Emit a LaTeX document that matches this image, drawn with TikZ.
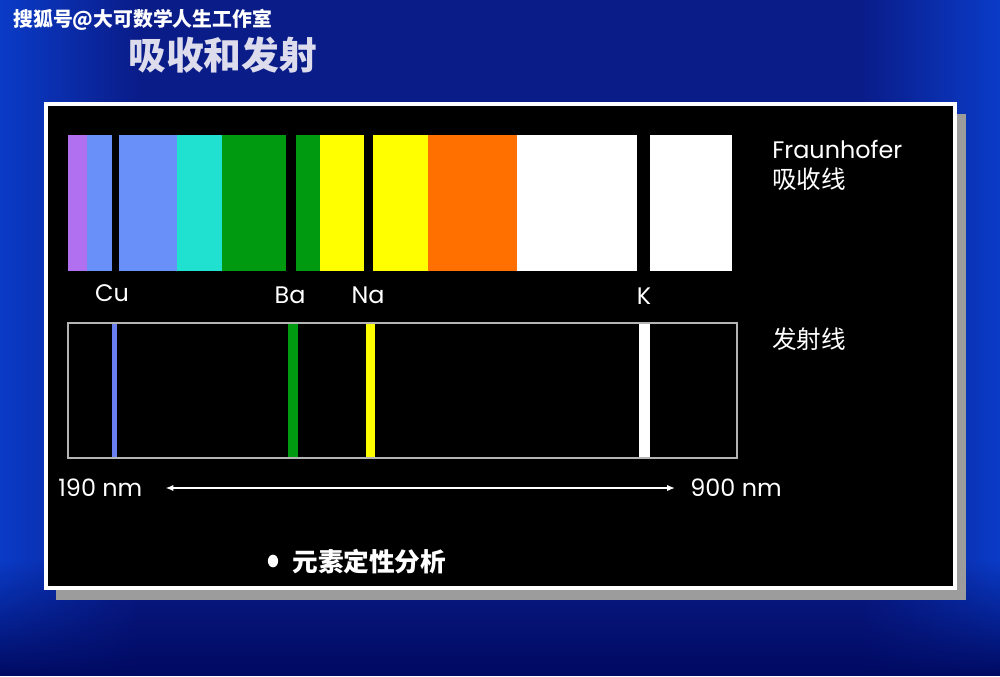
\documentclass[tikz,border=0pt]{standalone}
\usepackage{fontspec}
\setmainfont{Poppins}
\newfontfamily\cjk{Noto Sans CJK SC}
\usetikzlibrary{arrows.meta,shapes.geometric,fadings}

\definecolor{bgnavy}{HTML}{0A1C88}
\definecolor{bgedge}{HTML}{0A3CC8}
\definecolor{bgdeep}{HTML}{010A62}
\definecolor{shadowgray}{HTML}{9C9C9C}
\definecolor{framegray}{HTML}{B4B4B4}
\definecolor{violetband}{HTML}{B070F0}
\definecolor{blueband}{HTML}{6890F8}
\definecolor{cyanband}{HTML}{20E0D0}
\definecolor{greenband}{HTML}{009A10}
\definecolor{yellowband}{HTML}{FFFF00}
\definecolor{orangeband}{HTML}{FF7000}
\definecolor{cublue}{HTML}{6A80F0}
\definecolor{titlegray}{HTML}{DCDCEC}

\begin{document}
\begin{tikzpicture}[
    x=0.02cm, y=-0.02cm,
    every node/.style={text=white, inner sep=0pt},
    lbl/.style={font=\fontsize{13.6pt}{16pt}\selectfont},
    cjklbl/.style={font=\cjk\fontsize{14pt}{17pt}\selectfont},
    panel/.style={draw=white, line width=2.3pt, fill=black},
    embox/.style={draw=framegray, line width=1.1pt},
    wlarrow/.style={{Latex[length=4.5pt,width=3.6pt]}-{Latex[length=4.5pt,width=3.6pt]},
      white, line width=1.1pt}
  ]
    \useasboundingbox (0,0) rectangle (1000,676);

    % Background
    \fill[bgnavy] (0,0) rectangle (1000,676);
    \fill[bgedge, path fading=east] (0,0) rectangle (140,676);
    \fill[bgedge, path fading=west] (860,0) rectangle (1000,676);
    \fill[bgdeep, path fading=north] (0,560) rectangle (1000,676);

    % Headings
    \node[anchor=west, font=\cjk\bfseries\fontsize{11.3pt}{13pt}\selectfont] (mark) at (13,20) {搜狐号@大可数学人生工作室};
    \node[anchor=west, text=titlegray, font=\cjk\bfseries\fontsize{21.5pt}{24pt}\selectfont] (title) at (128,55) {吸收和发射};

    % Panel with shadow
    \fill[shadowgray] (56,114) rectangle (966,600);
    \draw[panel] (46,104) rectangle (955,588);

    % Absorption spectrum
    \foreach \xa/\xb/\col in {68/87/violetband, 87/177/blueband, 177/222/cyanband,
        222/320/greenband, 320/428/yellowband, 428/517/orangeband, 517/732/white}
      \fill[\col] (\xa,135) rectangle (\xb,271);
    \foreach \xa/\xb in {112/119, 286/296, 364/373, 637/650}
      \fill[black] (\xa,135) rectangle (\xb,271);

    \node[lbl] (cu) at (112,293) {Cu};
    \node[lbl] (ba) at (290,295) {Ba};
    \node[lbl] (na) at (368,295) {Na};
    \node[lbl] (k) at (644,296) {K};

    \node[lbl, anchor=base west] (fraun) at (772,158) {Fraunhofer};
    \node[cjklbl, anchor=west] (abslbl) at (772,179) {吸收线};

    % Emission spectrum
    \draw[embox] (68,323) rectangle (737,458);
    \fill[cublue] (112,324) rectangle (117,457);
    \fill[greenband] (288,324) rectangle (298,457);
    \fill[yellowband] (366,324) rectangle (375,457);
    \fill[white] (639,324) rectangle (650,457);

    \node[cjklbl, anchor=west] (emlbl) at (772,339) {发射线};

    % Wavelength range
    \node[lbl, anchor=west] (nm190) at (58,488) {190 nm};
    \node[lbl, anchor=west] (nm900) at (690,488) {900 nm};
    \draw[wlarrow, shorten <=13pt, shorten >=8.5pt] (nm190.east) -- (nm900.west);

    % Bullet
    \node[ellipse, fill=white, minimum width=5.8pt, minimum height=7.2pt] (dot) at (273,561) {};
    \node[anchor=west, font=\cjk\bfseries\fontsize{14.6pt}{17pt}\selectfont] (qual) at (292,562) {元素定性分析};

  \end{tikzpicture}
\end{document}
